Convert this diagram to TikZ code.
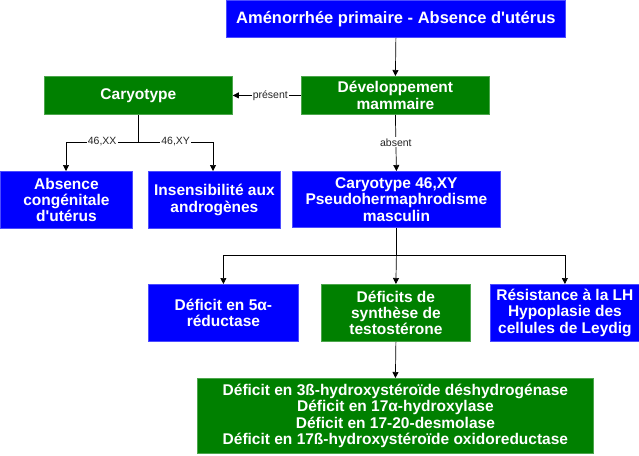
\documentclass[tikz,border=0pt]{standalone}
\usepackage{fontspec}
\setmainfont{Liberation Sans}
\usetikzlibrary{arrows.meta}
\definecolor{bxblue}{HTML}{0000FF}
\definecolor{bxgreen}{HTML}{008000}
\begin{document}
\begin{tikzpicture}[x=1pt,y=-1pt,
  box/.style={draw=#1!70!white, fill=#1, line width=0.8pt, text=white, font=\bfseries\fontsize{15.5}{16.3}\selectfont, align=center, inner sep=0pt, anchor=north west},
  conn/.style={draw=black, line width=0.7pt},
  arr/.style={conn, -{Triangle[width=6pt,length=6pt]}},
  lbl/.style={fill=white, font=\fontsize{10.5}{12}\selectfont, inner sep=1pt, text=black!85}
]
\useasboundingbox (0,0) rectangle (639,455);
% boxes
\node[box=bxblue, minimum width=339, minimum height=37, font=\bfseries\fontsize{16.5}{17}\selectfont] (top) at (226,0) {Aménorrhée primaire - Absence d\textquotesingle utérus};
\node[box=bxgreen, minimum width=188, minimum height=38] (dev) at (301,76) {Développement\\mammaire};
\node[box=bxgreen, minimum width=188, minimum height=38] (car) at (44,76) {Caryotype};
\node[box=bxblue, minimum width=132, minimum height=57] (abs) at (0,171) {Absence\\congénitale\\d\textquotesingle utérus};
\node[box=bxblue, minimum width=132, minimum height=57] (ins) at (148,171) {Insensibilité aux\\androgènes};
\node[box=bxblue, minimum width=208, minimum height=56] (xy) at (292,171) {Caryotype 46,XY\\Pseudohermaphrodisme\\masculin};
\node[box=bxblue, minimum width=150, minimum height=57] (red) at (148,284) {Déficit en 5α-\\réductase};
\node[box=bxgreen, minimum width=149, minimum height=57] (syn) at (321,284) {Déficits de\\synthèse de\\testostérone};
\node[box=bxblue, minimum width=149, minimum height=57] (lh) at (490,284) {Résistance à la LH\\Hypoplasie des\\cellules de Leydig};
\node[box=bxgreen, minimum width=396, minimum height=75] (def) at (197,378) {Déficit en 3ß-hydroxystéroïde déshydrogénase\\Déficit en 17α-hydroxylase\\Déficit en 17-20-desmolase\\Déficit en 17ß-hydroxystéroïde oxidoreductase};
% connectors
\draw[arr] (top.south) -- (dev.north);
\draw[arr] (dev.west) -- node[lbl, pos=0.45] {présent} (car.east);
\coordinate (cj) at (car.south |- 0,142);
\coordinate (cl) at (66,142);
\coordinate (cr) at (213,142);
\draw[conn] (car.south) -- (cj);
\draw[arr] (cj) -- node[lbl, pos=0.5] {46,XX} (cl) -- (cl |- abs.north);
\draw[arr] (cj) -- node[lbl, pos=0.5] {46,XY} (cr) -- (cr |- ins.north);
\draw[arr] (dev.south) -- node[lbl, pos=0.49] {absent} (xy.north);
\coordinate (xj) at (xy.south |- 0,255);
\draw[conn] (xy.south) -- (xj);
\draw[arr] (xj) -- (red.north |- xj) -- (red.north);
\draw[arr] (xj) -- (syn.north);
\draw[arr] (xj) -- (lh.north |- xj) -- (lh.north);
\draw[arr] (syn.south) -- (def.north);
\end{tikzpicture}
\end{document}
